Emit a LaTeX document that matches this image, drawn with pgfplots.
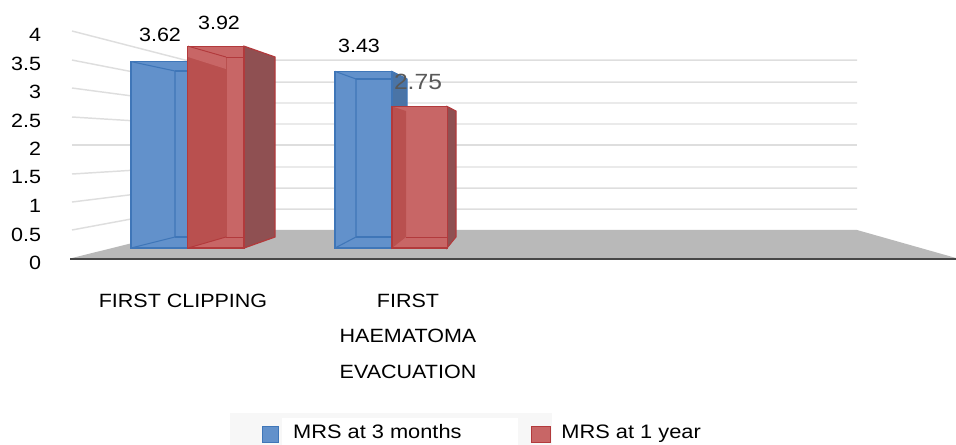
\documentclass[border=0pt]{standalone}
\usepackage{pgfplots}
\pgfplotsset{compat=1.18}
\usepackage{fontspec}
\setmainfont[FakeStretch=1.12]{Liberation Sans}
\definecolor{blueF}{HTML}{6291CB}
\definecolor{blueE}{HTML}{3F76B8}
\definecolor{blueD}{HTML}{4A74A6}
\definecolor{redF}{HTML}{C86666}
\definecolor{redE}{HTML}{B23A3C}
\definecolor{redD}{HTML}{8F5052}
\definecolor{redL}{HTML}{B9504F}
\definecolor{gridc}{HTML}{DEDEDE}
\definecolor{floorc}{HTML}{B9B9B9}
\begin{document}
\begin{tikzpicture}[x=1pt,y=1pt]
\path[use as bounding box] (0,0) rectangle (717,333.75);
\begin{axis}[
  name=main, at={(0,0)}, anchor=south west,
  scale only axis, width=717pt, height=333.75pt,
  xmin=0, xmax=956, ymin=-3.825, ymax=4.816,
  hide axis, clip=true,
  legend columns=2,
  legend style={at={(0.274,0.005)}, anchor=south west, draw=none, fill=none,
    font=\fontsize{14.6}{17}\selectfont, inner sep=0pt, outer sep=0pt,
    nodes={inner sep=0pt},
    /tikz/every even column/.append style={column sep=52pt}},
]
% legend band
\addplot[fill=black!3, draw=none, forget plot] coordinates {(230,-3.825) (230,-3.204) (552,-3.204) (552,-3.825)} -- cycle;
\addplot[fill=white, draw=none, forget plot] coordinates {(282,-3.825) (282,-3.301) (518,-3.301) (518,-3.825)} -- cycle;
% floor
\addplot[fill=floorc, draw=none, forget plot] coordinates {(72,-0.194) (185,0.350) (857,0.350) (956,-0.194)} -- cycle;
% back wall grid
\addplot[gridc, line width=1.1pt, forget plot] coordinates {(72,4.214) (185,3.650) (857,3.650)};
\addplot[gridc, line width=1.1pt, forget plot] coordinates {(72,3.650) (185,3.223) (857,3.223)};
\addplot[gridc, line width=1.1pt, forget plot] coordinates {(72,3.107) (185,2.816) (857,2.816)};
\addplot[gridc, line width=1.1pt, forget plot] coordinates {(72,2.544) (185,2.408) (857,2.408)};
\addplot[gridc, line width=1.1pt, forget plot] coordinates {(72,2.0) (185,2.0) (857,2.0)};
\addplot[gridc, line width=1.1pt, forget plot] coordinates {(72,1.437) (185,1.573) (857,1.573)};
\addplot[gridc, line width=1.1pt, forget plot] coordinates {(72,0.893) (185,1.165) (857,1.165)};
\addplot[gridc, line width=1.1pt, forget plot] coordinates {(72,0.350) (185,0.757) (857,0.757)};
% front edge of floor
\addplot[color=black!72, line width=1.5pt, forget plot] coordinates {(70,-0.204) (956,-0.204)};
% blue 2 side
\addplot[fill=blueD, draw=blueE, line width=0.8pt, forget plot] coordinates {(392,3.43) (407,3.282) (407,0.214) (392,0)} -- cycle;
% blue fronts
\addplot[ybar, bar width=57, bar shift=0pt, fill=blueF, draw=blueE, line width=0.9pt,
  legend image code/.code={\draw[fill=blueF, draw=blueE, line width=0.8pt] (0pt,-7.25pt) rectangle (12pt,4.25pt);\path[draw=none,fill=none] (0pt,0pt) -- (23pt,0pt);}]
  coordinates {(159.5,3.62) (363.5,3.43)};
\addlegendentry{MRS at 3 months}
% blue inner lines
\addplot[blueE, line width=0.8pt, forget plot] coordinates {(131,3.62) (175,3.437) (175,0.214) (131,0)};
\addplot[blueE, line width=0.8pt, forget plot] coordinates {(175,3.437) (188,3.437)};
\addplot[blueE, line width=0.8pt, forget plot] coordinates {(175,0.214) (188,0.214)};
\addplot[blueE, line width=0.8pt, forget plot] coordinates {(335,3.43) (356,3.282) (356,0.214) (335,0)};
\addplot[blueE, line width=0.8pt, forget plot] coordinates {(356,3.282) (392,3.282)};
\addplot[blueE, line width=0.8pt, forget plot] coordinates {(356,0.214) (392,0.214)};
% red sides
\addplot[fill=redD, draw=redE, line width=0.9pt, forget plot] coordinates {(244,3.92) (275,3.709) (275,0.214) (244,0)} -- cycle;
\addplot[fill=redD, draw=redE, line width=0.8pt, forget plot] coordinates {(447,2.75) (456,2.660) (456,0.214) (447,0)} -- cycle;
% red fronts
\addplot[ybar, bar width=56, bar shift=0pt, fill=redF, draw=redE, line width=0.9pt,
  legend image code/.code={\draw[fill=redF, draw=redE, line width=0.8pt] (0pt,-7.25pt) rectangle (14pt,4.25pt);\path[draw=none,fill=none] (0pt,0pt) -- (22.5pt,0pt);}]
  coordinates {(216,3.92) (419.5,2.75)};
\addlegendentry{MRS at 1 year}
% red left panes
\addplot[fill=redL, draw=none, forget plot] coordinates {(188,3.92) (226,3.709) (226,0.214) (188,0)} -- cycle;
\addplot[fill=redF, draw=none, forget plot] coordinates {(188,3.92) (226,3.709) (226,3.476) (188,3.709)} -- cycle;
\addplot[fill=redL, draw=none, forget plot] coordinates {(392,2.75) (406,2.660) (406,0.214) (392,0)} -- cycle;
\addplot[redE, line width=0.7pt, forget plot] coordinates {(188,3.92) (226,3.709)};
\addplot[redL, line width=0.5pt, forget plot] coordinates {(226,3.709) (226,0.214)};
\addplot[redE, line width=0.7pt, forget plot] coordinates {(226,0.214) (188,0)};
\addplot[redE, line width=0.7pt, forget plot] coordinates {(226,3.709) (244,3.709)};
\addplot[redE, line width=0.7pt, forget plot] coordinates {(226,0.214) (244,0.214)};
\addplot[redE, line width=0.7pt, forget plot] coordinates {(406,0.214) (447,0.214)};
\addplot[redE, line width=0.8pt, forget plot] coordinates {(392,2.75) (392,0)};
% value labels
\node[font=\fontsize{14.4}{17}\selectfont] at (axis cs:160,4.145) {3.62};
\node[font=\fontsize{14.4}{17}\selectfont] at (axis cs:219,4.37) {3.92};
\node[font=\fontsize{14.4}{17}\selectfont] at (axis cs:359,3.92) {3.43};
\node[font=\fontsize{16.5}{18}\selectfont, text=black!65] at (axis cs:418,3.22) {2.75};
% category labels
\node[font=\fontsize{14.4}{17}\selectfont] at (axis cs:183,-1.03) {FIRST CLIPPING};
\node[font=\fontsize{14.4}{17}\selectfont] at (axis cs:408,-1.03) {FIRST};
\node[font=\fontsize{14.4}{17}\selectfont] at (axis cs:408,-1.71) {HAEMATOMA};
\node[font=\fontsize{14.4}{17}\selectfont] at (axis cs:408,-2.41) {EVACUATION};
\end{axis}
\begin{axis}[
  at={(31pt,0)}, anchor=south west,
  scale only axis, width=10pt, height=333.75pt,
  xmin=0, xmax=1, ymin=-3.193, ymax=4.614,
  axis x line=none, axis y line*=left, y axis line style={draw=none},
  ytick={0,0.5,1,1.5,2,2.5,3,3.5,4},
  yticklabels={0,0.5,1,1.5,2,2.5,3,3.5,4},
  major tick length=0pt,
  y tick label style={font=\fontsize{14.4}{17}\selectfont, anchor=east, inner sep=0pt},
]
\addplot[draw=none] coordinates {(0,0) (1,4)};
\end{axis}
\end{tikzpicture}
\end{document}
